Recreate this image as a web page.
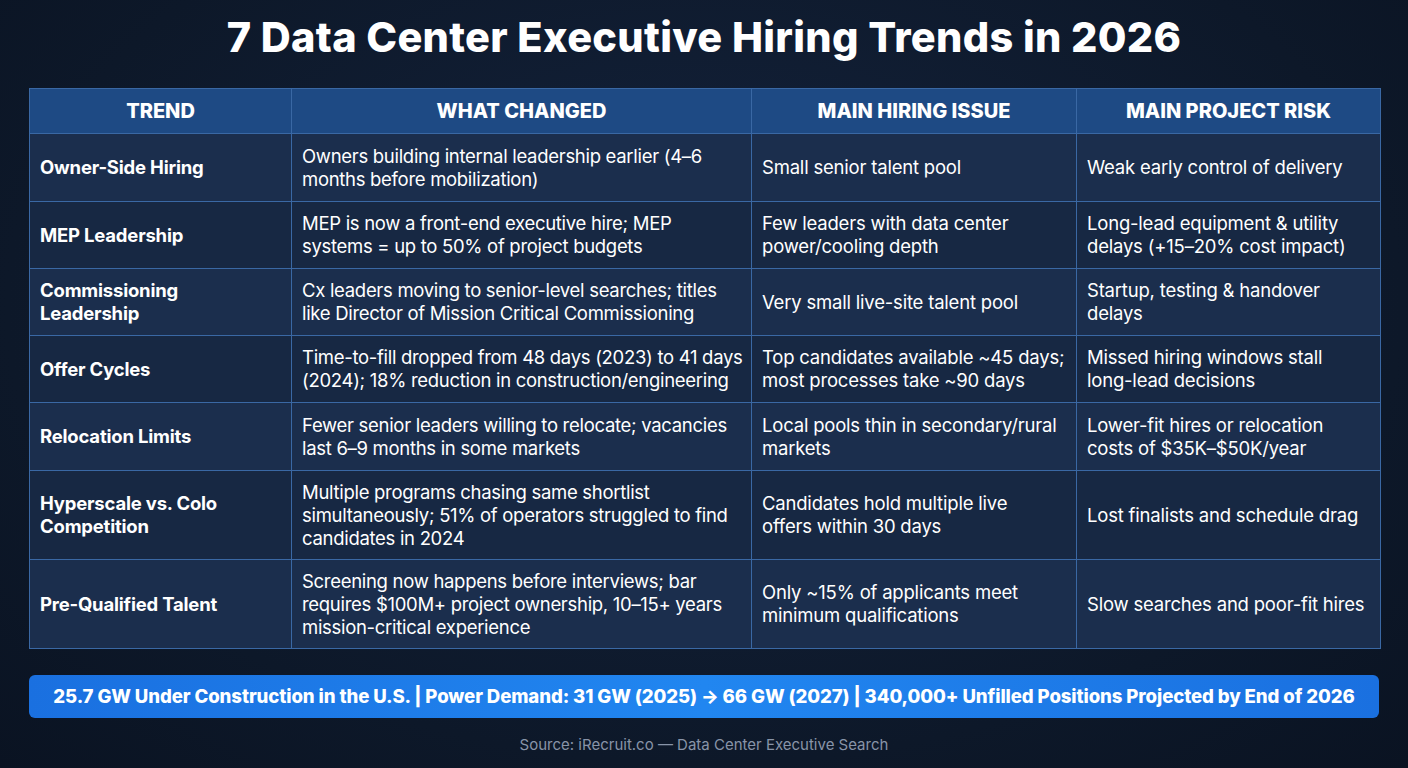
<!DOCTYPE html>
<html><head><meta charset="utf-8">
<script src="https://cdn.jsdelivr.net/npm/chart.js@4"></script>
<style>
html,body{margin:0;width:1408px;height:768px;overflow:hidden;background:radial-gradient(ellipse at 50% 40%,#14233d 0%,#0d1829 70%,#0a1322 100%);font-family:Inter,"Noto Sans",sans-serif;color:#fff}
h1{position:absolute;top:12px;left:0;width:1408px;text-align:center;margin:0;font-size:41.5px;font-weight:800;letter-spacing:0.3px}
table{position:absolute;left:29px;top:88px;width:1351px;border-collapse:collapse;table-layout:fixed}
td,th{border:1.5px solid #3a68a4;padding:0 10px;font-size:18.5px;letter-spacing:-0.2px;line-height:23px;vertical-align:middle;white-space:pre}
th{background:#1e4a84;height:44px;font-weight:800;font-size:20px;text-align:center;letter-spacing:0}
td:first-child{font-weight:700}
td:nth-child(2){letter-spacing:-0.3px}
tr.o td{background:#1b2e4d}
tr.e td{background:#172843}
#banner{position:absolute;left:29px;top:675px;width:1350px;height:43px;border-radius:6px;background:linear-gradient(90deg,#1a70e0,#2186f0,#1a70e0);font-weight:800;font-size:18.6px;letter-spacing:-0.1px;white-space:nowrap;text-align:center;line-height:43px}
#src{position:absolute;top:735px;width:1408px;text-align:center;font-size:15px;color:#8894a8}
</style></head><body>
<h1 id="title"></h1>
<table id="t"></table>
<div id="banner"></div>
<div id="src"></div>
<script>
const title="7 Data Center Executive Hiring Trends in 2026";
const headers=["TREND","WHAT CHANGED","MAIN HIRING ISSUE","MAIN PROJECT RISK"];
const trends=["Owner-Side Hiring","MEP Leadership","Commissioning\nLeadership","Offer Cycles","Relocation Limits","Hyperscale vs. Colo\nCompetition","Pre-Qualified Talent"];
const changes=["Owners building internal leadership earlier (4–6\nmonths before mobilization)","MEP is now a front-end executive hire; MEP\nsystems = up to 50% of project budgets","Cx leaders moving to senior-level searches; titles\nlike Director of Mission Critical Commissioning","Time-to-fill dropped from 48 days (2023) to 41 days\n(2024); 18% reduction in construction/engineering","Fewer senior leaders willing to relocate; vacancies\nlast 6–9 months in some markets","Multiple programs chasing same shortlist\nsimultaneously; 51% of operators struggled to find\ncandidates in 2024","Screening now happens before interviews; bar\nrequires $100M+ project ownership, 10–15+ years\nmission-critical experience"];
const issues=["Small senior talent pool","Few leaders with data center\npower/cooling depth","Very small live-site talent pool","Top candidates available ~45 days;\nmost processes take ~90 days","Local pools thin in secondary/rural\nmarkets","Candidates hold multiple live\noffers within 30 days","Only ~15% of applicants meet\nminimum qualifications"];
const risks=["Weak early control of delivery","Long-lead equipment & utility\ndelays (+15–20% cost impact)","Startup, testing & handover\ndelays","Missed hiring windows stall\nlong-lead decisions","Lower-fit hires or relocation\ncosts of $35K–$50K/year","Lost finalists and schedule drag","Slow searches and poor-fit hires"];
const banner="25.7 GW Under Construction in the U.S. | Power Demand: 31 GW (2025) → 66 GW (2027) | 340,000+ Unfilled Positions Projected by End of 2026";
const source="Source: iRecruit.co — Data Center Executive Search";
const heights=[68,67,67,67,68,89,89];
const widths=[262,460,325,304];
document.getElementById('title').textContent=title;
document.getElementById('banner').textContent=banner;
document.getElementById('src').textContent=source;
const t=document.getElementById('t');
let h='<colgroup>'+widths.map(w=>`<col style="width:${w}px">`).join('')+'</colgroup><tr>'+headers.map(x=>`<th>${x}</th>`).join('')+'</tr>';
trends.forEach((tr,i)=>{h+=`<tr class="${i%2?'e':'o'}" style="height:${heights[i]}px"><td>${tr}</td><td>${changes[i]}</td><td>${issues[i]}</td><td>${risks[i]}</td></tr>`;});
t.innerHTML=h;
</script>
</body></html>
